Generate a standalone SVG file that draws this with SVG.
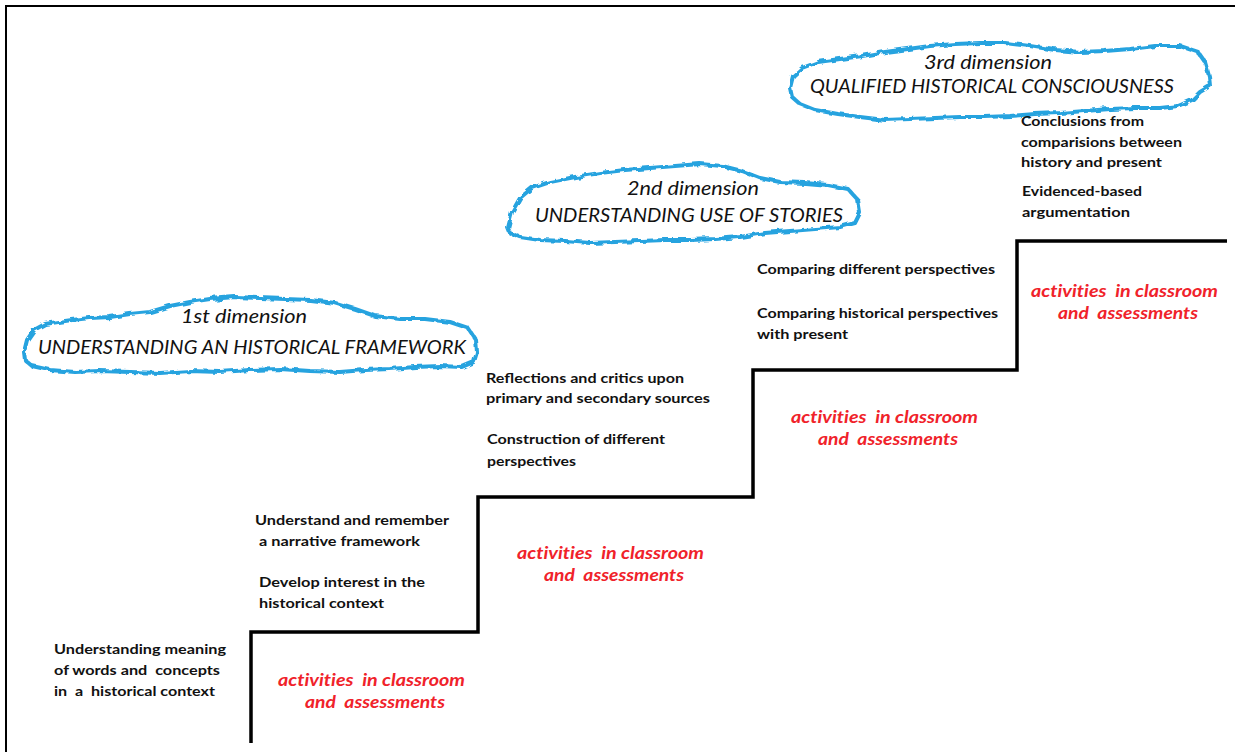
<svg xmlns="http://www.w3.org/2000/svg" width="1235" height="752" viewBox="0 0 1235 752">
<style>
.frame{fill:none;stroke:#000;stroke-width:2}
.stair{fill:none;stroke:#000;stroke-width:3.5;stroke-linejoin:miter}
.cloud{fill:none;stroke:#28a3df;stroke-width:4;stroke-linejoin:round}
.dim{font-family:Lato,"Open Sans",sans-serif;font-style:italic;font-size:20px;fill:#111;white-space:pre}
.txt{font-family:Lato,"Open Sans",sans-serif;font-weight:bold;font-size:14px;fill:#111;white-space:pre}
.act{font-family:Lato,"Open Sans",sans-serif;font-weight:bold;font-style:italic;font-size:17px;fill:#f0222a;white-space:pre;font-variant-ligatures:none}
</style>
<defs>
<filter id="wob" x="-5%" y="-20%" width="110%" height="140%">
<feTurbulence type="fractalNoise" baseFrequency="0.12" numOctaves="2" seed="3"/>
<feDisplacementMap in="SourceGraphic" scale="5"/>
</filter>
</defs>
<rect width="1235" height="752" fill="#fff"/>
<g id="frame"><path class="frame" d="M6,752 V6 H1235"/></g>
<g id="connectors">
<path class="stair" d="M251,743 V632 H478 V497 H753 V370 H1017 V241 H1227"/>
</g>
<g id="dim1">
<path class="cloud" filter="url(#wob)" d="M24,352 L27,340 L34,330 L45,324 L58,322 L72,320 L90,318 L110,317 L130,314 L150,312 L170,306 L190,302 L210,299 L235,297 L260,298 L285,299 L310,300 L335,303 L355,309 L375,316 L400,319 L425,319 L450,322 L468,328 L476,340 L477,352 L474,362 L462,367 L440,366 L415,367 L390,369 L365,370 L340,372 L310,371 L280,369 L250,370 L220,372 L190,371 L160,373 L130,372 L100,371 L75,372 L50,370 L32,366 L25,360 Z"/>
<text class="dim" x="181" y="323" textLength="126" lengthAdjust="spacingAndGlyphs">1st dimension</text>
<text class="dim" x="38" y="354" textLength="428" lengthAdjust="spacingAndGlyphs">UNDERSTANDING AN HISTORICAL FRAMEWORK</text>
</g>
<g id="dim2">
<path class="cloud" filter="url(#wob)" d="M508,228 L512,212 L520,198 L532,188 L550,182 L575,177 L600,173 L625,170 L650,168 L675,166 L700,164 L722,166 L742,171 L760,178 L780,182 L805,183 L828,185 L848,189 L858,200 L860,213 L855,223 L840,227 L815,229 L790,231 L765,233 L740,237 L715,239 L690,240 L665,240 L640,241 L615,242 L590,243 L565,241 L540,240 L520,237 L510,233 Z"/>
<text class="dim" x="627" y="195" textLength="132" lengthAdjust="spacingAndGlyphs">2nd dimension</text>
<text class="dim" x="535" y="222" textLength="308" lengthAdjust="spacingAndGlyphs">UNDERSTANDING USE OF STORIES</text>
</g>
<g id="dim3">
<path class="cloud" filter="url(#wob)" d="M790,88 L793,76 L802,68 L818,62 L840,59 L862,56 L885,52 L908,49 L930,46 L955,44 L980,43 L1005,43 L1030,46 L1055,50 L1080,52 L1105,51 L1130,49 L1155,46 L1180,46 L1198,52 L1205,62 L1209,76 L1210,86 L1200,92 L1192,100 L1178,106 L1160,108 L1135,108 L1110,109 L1085,111 L1060,113 L1035,114 L1010,116 L985,117 L960,117 L935,118 L910,119 L885,120 L860,117 L838,114 L815,110 L800,104 L792,97 Z"/>
<text class="dim" x="924" y="69" textLength="128" lengthAdjust="spacingAndGlyphs">3rd dimension</text>
<text class="dim" x="810" y="93" textLength="364" lengthAdjust="spacingAndGlyphs">QUALIFIED HISTORICAL CONSCIOUSNESS</text>
</g>
<g id="step1">
<text class="txt" x="54" y="654" textLength="172" lengthAdjust="spacingAndGlyphs">Understanding meaning</text>
<text class="txt" x="54" y="675" textLength="166" lengthAdjust="spacingAndGlyphs">of words and  concepts</text>
<text class="txt" x="54" y="696" textLength="161" lengthAdjust="spacingAndGlyphs">in  a  historical context</text>
<text class="act" x="278" y="686" textLength="187" lengthAdjust="spacingAndGlyphs">activities  in classroom</text>
<text class="act" x="305" y="708" textLength="140" lengthAdjust="spacingAndGlyphs">and  assessments</text>
</g>
<g id="step2">
<text class="txt" x="255" y="525" textLength="194" lengthAdjust="spacingAndGlyphs">Understand and remember</text>
<text class="txt" x="255" y="546" textLength="165" lengthAdjust="spacingAndGlyphs"> a narrative framework</text>
<text class="txt" x="259" y="587" textLength="166" lengthAdjust="spacingAndGlyphs">Develop interest in the</text>
<text class="txt" x="259" y="608" textLength="125" lengthAdjust="spacingAndGlyphs">historical context</text>
<text class="act" x="517" y="559" textLength="187" lengthAdjust="spacingAndGlyphs">activities  in classroom</text>
<text class="act" x="544" y="581" textLength="140" lengthAdjust="spacingAndGlyphs">and  assessments</text>
</g>
<g id="step3">
<text class="txt" x="486" y="383" textLength="198" lengthAdjust="spacingAndGlyphs">Reflections and critics upon</text>
<text class="txt" x="486" y="403" textLength="224" lengthAdjust="spacingAndGlyphs">primary and secondary sources</text>
<text class="txt" x="487" y="444" textLength="178" lengthAdjust="spacingAndGlyphs">Construction of different</text>
<text class="txt" x="487" y="466" textLength="89" lengthAdjust="spacingAndGlyphs">perspectives</text>
<text class="act" x="791" y="423" textLength="187" lengthAdjust="spacingAndGlyphs">activities  in classroom</text>
<text class="act" x="818" y="445" textLength="140" lengthAdjust="spacingAndGlyphs">and  assessments</text>
</g>
<g id="step4">
<text class="txt" x="757" y="274" textLength="238" lengthAdjust="spacingAndGlyphs">Comparing different perspectives</text>
<text class="txt" x="757" y="318" textLength="241" lengthAdjust="spacingAndGlyphs">Comparing historical perspectives</text>
<text class="txt" x="757" y="339" textLength="91" lengthAdjust="spacingAndGlyphs">with present</text>
<text class="act" x="1031" y="297" textLength="187" lengthAdjust="spacingAndGlyphs">activities  in classroom</text>
<text class="act" x="1058" y="319" textLength="140" lengthAdjust="spacingAndGlyphs">and  assessments</text>
</g>
<g id="step5">
<text class="txt" x="1021" y="126" textLength="123" lengthAdjust="spacingAndGlyphs">Conclusions from</text>
<text class="txt" x="1021" y="147" textLength="161" lengthAdjust="spacingAndGlyphs">comparisions between</text>
<text class="txt" x="1021" y="167" textLength="141" lengthAdjust="spacingAndGlyphs">history and present</text>
<text class="txt" x="1022" y="196" textLength="120" lengthAdjust="spacingAndGlyphs">Evidenced-based</text>
<text class="txt" x="1022" y="217" textLength="108" lengthAdjust="spacingAndGlyphs">argumentation</text>
</g>
</svg>
